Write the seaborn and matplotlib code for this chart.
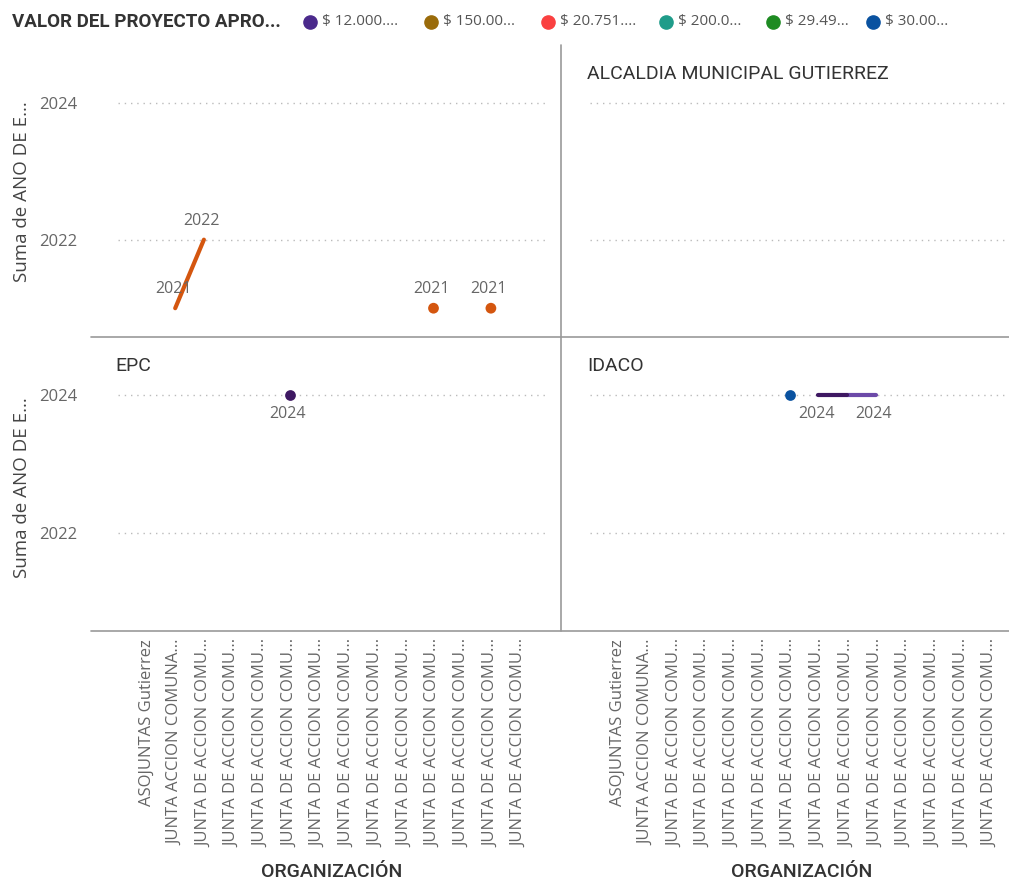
import numpy as np
import pandas as pd
import matplotlib
matplotlib.use("Agg")
import matplotlib.pyplot as plt
import seaborn as sns
from matplotlib.lines import Line2D

# ---------------- data ----------------
legend_title = "VALOR DEL PROYECTO APRO..."
legend_labels = ["$ 12.000....", "$ 150.00...", "$ 20.751....", "$ 200.0...", "$ 29.49...", "$ 30.00..."]
legend_colors = ["#4B2A8C", "#9A6B0A", "#FA4040", "#1F9C8A", "#1E8B22", "#0A52A0"]

organizations = ["ASOJUNTAS Gutierrez", "JUNTA ACCION COMUNA..."] + ["JUNTA DE ACCION COMU..."] * 12
panel_titles = ["", "ALCALDIA MUNICIPAL GUTIERREZ", "EPC", "IDACO"]
y_ticks = [2022, 2024]

pt_panel = ["", "", "", "", "EPC", "IDACO", "IDACO", "IDACO", "IDACO", "IDACO"]
pt_org = [1, 2, 10, 12, 5, 6, 7, 8, 8, 9]
pt_year = [2021, 2022, 2021, 2021, 2024, 2024, 2024, 2024, 2024, 2024]
pt_series = ["otro_naranja", "otro_naranja", "otro_naranja", "otro_naranja",
             "otro_morado", "$ 30.00...", "otro_morado", "otro_morado",
             "$ 12.000....", "$ 12.000...."]
pt_show_label = [True, True, True, True, True, False, True, False, False, True]

series_colors = dict(zip(legend_labels, legend_colors))
series_colors.update({"otro_naranja": "#D4560F", "otro_morado": "#3E1862", "$ 12.000....": "#6C4AA8"})

df = pd.DataFrame({"panel": pt_panel, "org": pt_org, "year": pt_year,
                   "series": pt_series, "show": pt_show_label})
# contiguous runs (Power BI breaks lines over missing categories)
df = df.sort_values(["panel", "series", "org"]).reset_index(drop=True)
run_ids = []
rid = 0
prev = None
for _, r in df.iterrows():
    key = (r.panel, r.series)
    if prev is None or prev[0] != key or r.org - prev[1] != 1:
        rid += 1
    run_ids.append(rid)
    prev = (key, r.org)
df["run"] = run_ids
df["run_len"] = df.groupby("run")["org"].transform("size")

# ---------------- figure ----------------
sns.set_theme(style="white")
plt.rcParams["font.family"] = ["Open Sans", "DejaVu Sans"]
W, H = 1009, 882
fig = plt.figure(figsize=(W / 100, H / 100), dpi=100)

def fx(px):
    return px / W

def fy(py):
    return 1 - py / H

tick_color = "#666666"
title_color = "#333333"
ylim = (2020.58, 2024.84)

# panel geometry in pixels: (left, top, right, bottom, cat0_px)
geo = {
    "": (118, 45, 545, 337, 146.5),
    "ALCALDIA MUNICIPAL GUTIERREZ": (590, 45, 1009, 337, 617.5),
    "EPC": (118, 337, 545, 631, 146.5),
    "IDACO": (590, 337, 1009, 631, 617.5),
}
step = 28.7

for i, title in enumerate(panel_titles):
    l, t, r, b, c0 = geo[title]
    ax = fig.add_axes([fx(l), fy(b), fx(r - l), (b - t) / H])
    sub = df[df.panel == title]
    multi = sub[sub.run_len > 1]
    single = sub[sub.run_len == 1]
    if len(multi):
        sns.lineplot(data=multi, x="org", y="year", hue="series", units="run",
                     estimator=None, palette=series_colors, linewidth=3,
                     legend=False, ax=ax, sort=True)
    if len(single):
        sns.scatterplot(data=single, x="org", y="year", hue="series",
                        palette=series_colors, s=60, linewidth=0,
                        legend=False, ax=ax, zorder=3)
    top_row = i < 2
    for _, rr in sub[sub.show].iterrows():
        ax.annotate(str(rr.year), (rr.org, rr.year),
                    xytext=(-1.5, 13.5 if top_row else -13.5), textcoords="offset points",
                    ha="center", va="center", fontsize=11.5, color=tick_color)
    ax.set_xlim((l - c0) / step, (r - c0) / step)
    ax.set_ylim(*ylim)
    ax.set_yticks(y_ticks)
    ax.yaxis.grid(True, linestyle=(0, (1, 3.5)), color="#BBBBBB", linewidth=1)
    ax.xaxis.grid(False)
    for s in ax.spines.values():
        s.set_visible(False)
    ax.set_xlabel("")
    ax.set_ylabel("")
    ax.tick_params(axis="both", length=0)
    if i % 2 == 0:
        ax.set_yticks(y_ticks)
        ax.set_yticklabels([str(v) for v in y_ticks], fontsize=12, color=tick_color)
        ax.tick_params(axis="y", pad=29)
    else:
        ax.set_yticklabels([])
    if not top_row:
        ax.set_xticks(range(len(organizations)))
        ax.set_xticklabels(organizations, rotation=90, fontsize=12, color=tick_color,
                           ha="center", va="top")
        ax.tick_params(axis="x", pad=6)
    else:
        ax.set_xticks([])
    if title:
        fig.text(fx(l - 3), fy(t + 29), title, fontsize=14, family="Roboto",
                 color=title_color, ha="left", va="center")

# y axis labels
for cy in (192, 488):
    fig.text(fx(22), fy(cy), "Suma de ANO DE E...", rotation=90, fontsize=13.5,
             color="#444444", ha="center", va="center")
# x axis labels
for cx in (332, 802):
    fig.text(fx(cx), fy(872), "ORGANIZACIÓN", fontsize=14, family="Roboto",
             weight="medium", color=title_color, ha="center", va="center")

# separators
sep = "#999999"
fig.add_artist(Line2D([fx(91), 1], [fy(337), fy(337)], color=sep, lw=1.2))
fig.add_artist(Line2D([fx(91), 1], [fy(631), fy(631)], color=sep, lw=1.2))
fig.add_artist(Line2D([fx(561), fx(561)], [fy(45), fy(631)], color=sep, lw=1.2))

# legend
fig.text(fx(12), fy(22), legend_title, fontsize=13.5, family="Roboto", weight="bold",
         color="#333333", ha="left", va="center")
leg_x = [310, 431, 548, 666, 773, 873]
for x, lab, col in zip(leg_x, legend_labels, legend_colors):
    fig.add_artist(Line2D([fx(x)], [fy(22)], marker="o", markersize=9.5,
                          color=col, linestyle="none"))
    fig.text(fx(x + 12), fy(22), lab, fontsize=11, color="#555555",
             ha="left", va="center")

fig.savefig("out.png", dpi=100)
